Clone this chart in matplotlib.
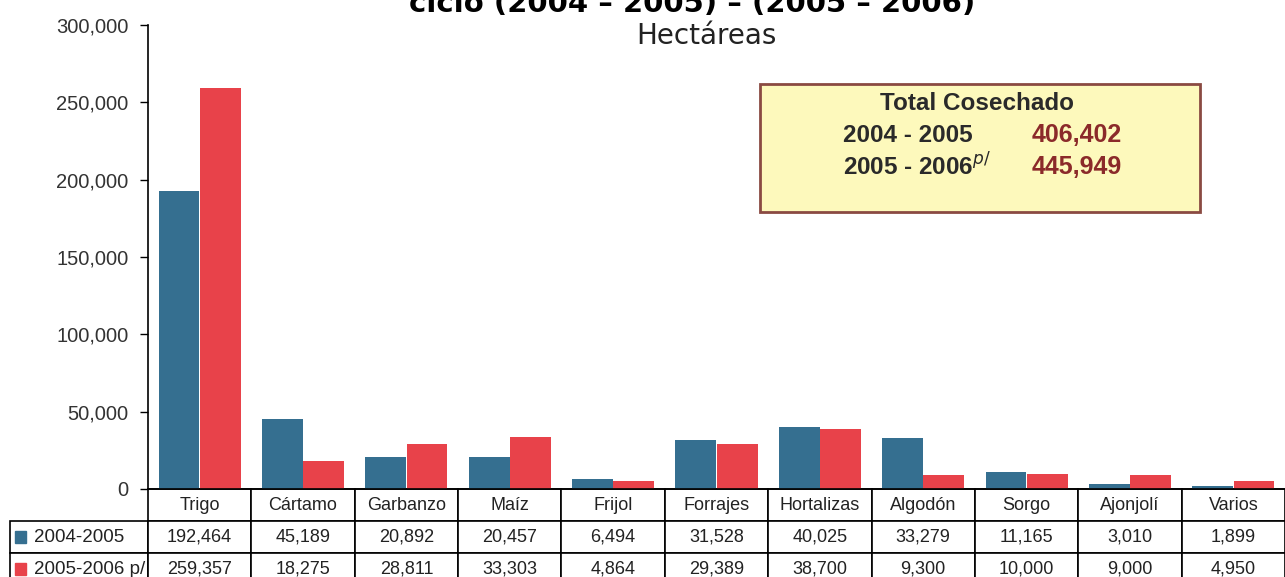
"""Superficie cosechada por cultivo, ciclos 2004-2005 y 2005-2006, con tabla de datos."""

import matplotlib.pyplot as plt
from matplotlib.patches import Rectangle
from matplotlib.ticker import FuncFormatter

CATEGORIES = ["Trigo", "Cártamo", "Garbanzo", "Maíz", "Frijol", "Forrajes",
              "Hortalizas", "Algodón", "Sorgo", "Ajonjolí", "Varios"]
HA_2004_2005 = [192464, 45189, 20892, 20457, 6494, 31528, 40025, 33279, 11165, 3010, 1899]
HA_2005_2006 = [259357, 18275, 28811, 33303, 4864, 29389, 38700, 9300, 10000, 9000, 4950]
SERIES_LABELS = ["2004-2005", "2005-2006 p/"]
TOTAL_LABELS = ["2004 - 2005", "2005 - 2006"]
TOTAL_VALUES = ["406,402", "445,949"]

BLUE = "#356f90"
RED = "#e8424a"

plt.rcParams["font.family"] = ["Liberation Sans", "DejaVu Sans"]

fig = plt.figure(figsize=(12.85, 5.77), dpi=100)
ax = fig.add_axes([148 / 1285, 1 - 489 / 577, 1 - 148 / 1285, (489 - 25) / 577])

x = range(len(CATEGORIES))
width = 0.395
ax.bar([i - 0.2 for i in x], HA_2004_2005, width=width, color=BLUE, zorder=2)
ax.bar([i + 0.2 for i in x], HA_2005_2006, width=width, color=RED, zorder=2)

ax.set_xlim(-0.5, len(CATEGORIES) - 0.5)
ax.set_ylim(0, 300000)
ax.set_yticks(range(0, 300001, 50000))
ax.yaxis.set_major_formatter(FuncFormatter(lambda v, _: f"{int(v):,}"))
ax.tick_params(axis="y", direction="out", length=6, width=1, pad=8,
               labelsize=14.5, labelcolor="#333333")
ax.set_xticks([])
for side in ("top", "right"):
    ax.spines[side].set_visible(False)
ax.spines["left"].set_linewidth(1.2)
ax.spines["bottom"].set_linewidth(1.2)

# data table below the axis (bbox covers the data grid, row labels hang to the left)
row_w = 138 / 1137
table = ax.table(
    cellText=[[f"{v:,}" for v in HA_2004_2005], [f"{v:,}" for v in HA_2005_2006]],
    rowLabels=["    " + s for s in SERIES_LABELS],
    colLabels=CATEGORIES,
    colWidths=[1 / len(CATEGORIES)] * len(CATEGORIES),
    rowLoc="left",
    cellLoc="center",
    bbox=[0, -96 / 464, 1, 96 / 464],
)
table._autoColumns = [c for c in table._autoColumns if c != -1]
table.auto_set_font_size(False)
for (r, c), cell in table.get_celld().items():
    cell.set_linewidth(1.2)
    cell.get_text().set_fontsize(13)
    cell.get_text().set_color("#222222")
    if c == -1:
        cell.set_width(row_w)
        cell.get_text().set_fontsize(13.5)
        cell.PAD = 0.02

# legend swatches inside the row label cells
for k, color in enumerate([BLUE, RED]):
    y0 = -(32 * (k + 1) + 16) / 464
    ax.add_patch(Rectangle((-row_w + 0.004, y0 - 0.012), 0.0105, 0.026,
                           transform=ax.transAxes, color=color, clip_on=False, zorder=5))

# titles
fig.text(692 / 1285, 1 - 12 / 577, "ciclo (2004 – 2005) – (2005 – 2006)", ha="center",
         va="baseline", fontsize=21, fontweight="bold", family="DejaVu Sans")
fig.text(706 / 1285, 1 - 44 / 577, "Hectáreas", ha="center", va="baseline",
         fontsize=20, family="DejaVu Sans", color="#222222")

# total box
bx0, by0, bx1, by1 = 760, 84, 1200, 212
fig.patches.append(Rectangle((bx0 / 1285, 1 - by1 / 577), (bx1 - bx0) / 1285,
                             (by1 - by0) / 577, transform=fig.transFigure,
                             facecolor="#fdf9bc", edgecolor="#8a4a42", linewidth=2))
fig.text(977 / 1285, 1 - 103 / 577, "Total Cosechado", ha="center", va="center",
         fontsize=17.5, fontweight="bold", color="#2a2a2a")
for k, (lab, val) in enumerate(zip(TOTAL_LABELS, TOTAL_VALUES)):
    yy = 1 - (135 + 32 * k) / 577
    sup = r"$^{p/}$" if k == 1 else ""
    fig.text(843 / 1285, yy, lab + sup, ha="left", va="center",
             fontsize=17.5, fontweight="bold", color="#2a2a2a")
    fig.text(1032 / 1285, yy, val, ha="left", va="center",
             fontsize=18, fontweight="bold", color="#8b2a2a")

fig.savefig("out.png", dpi=100)
